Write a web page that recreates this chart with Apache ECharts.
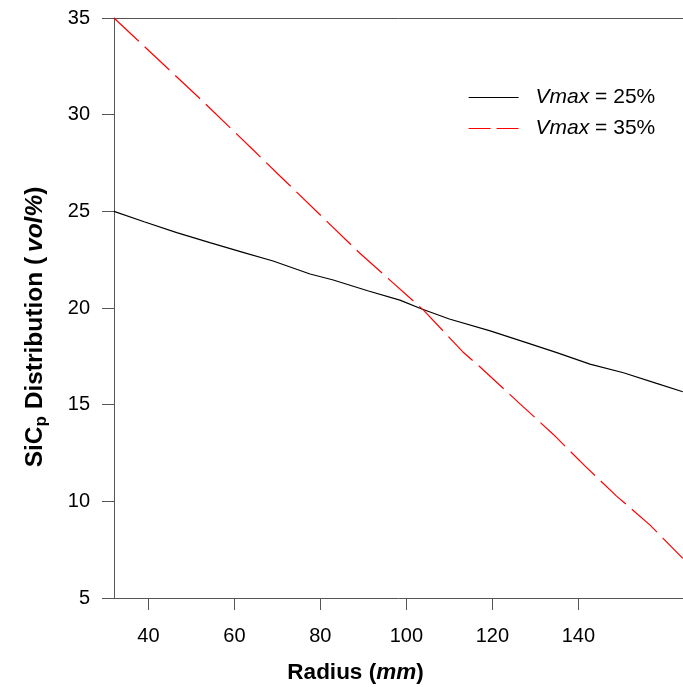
<!DOCTYPE html>
<html>
<head>
<meta charset="utf-8">
<script src="https://cdn.jsdelivr.net/npm/echarts@6/dist/echarts.min.js"></script>
<style>
html,body{margin:0;padding:0;background:#fff;}
#chart{width:683px;height:687px;}
</style>
</head>
<body>
<div id="chart"></div>
<script>
// ---- data ----
const radius25 = [32, 39, 46.6, 54.3, 62, 69, 77.6, 83, 91, 98.5, 103.6, 110, 119.5, 127.2, 135, 142.7, 150.5, 158.2, 164.3];
const vmax25   = [25.0, 24.46, 23.9, 23.38, 22.88, 22.43, 21.76, 21.45, 20.89, 20.41, 19.95, 19.43, 18.82, 18.26, 17.69, 17.10, 16.65, 16.1, 15.67];
const radius35 = [32, 51.9, 64.4, 70.6, 89.2, 104, 113.1, 117.1, 126.5, 134.2, 141.6, 148.9, 156.7, 164.3];
const vmax35   = [35, 30.85, 28.17, 26.83, 22.83, 19.89, 17.74, 16.96, 15.03, 13.46, 11.82, 10.27, 8.77, 7.05];
const xTicks = [40, 60, 80, 100, 120, 140];
const seriesNames = ['Vmax = 25%', 'Vmax = 35%'];

const FONT = "'Liberation Sans', Arial, Helvetica, sans-serif";
const AX = '#555';

function pairs(xs, ys) { return xs.map((x, i) => [x, ys[i]]); }

const chart = echarts.init(document.getElementById('chart'), null, {renderer: 'canvas'});
chart.setOption({
  animation: false,
  backgroundColor: '#fff',
  grid: {left: 114, right: 0, top: 18, bottom: 89, containLabel: false},
  xAxis: [{
    type: 'value', min: 32, max: 164.35,
    axisLine: {show: true, onZero: false, lineStyle: {color: AX, width: 1}},
    axisTick: {show: true, length: 12, lineStyle: {color: AX}, customValues: xTicks},
    axisLabel: {show: true, margin: 28, fontSize: 20, color: '#000', fontFamily: FONT, customValues: xTicks},
    splitLine: {show: false}
  }, {
    type: 'value', position: 'top', min: 32, max: 164.35,
    axisLine: {show: true, onZero: false, lineStyle: {color: AX, width: 1}},
    axisTick: {show: false}, axisLabel: {show: false}, splitLine: {show: false}
  }],
  yAxis: {
    type: 'value', min: 5, max: 35, interval: 5,
    axisLine: {show: true, onZero: false, lineStyle: {color: AX, width: 1}},
    axisTick: {show: true, length: 12, lineStyle: {color: AX}},
    axisLabel: {margin: 24, fontSize: 20, color: '#000', fontFamily: FONT},
    splitLine: {show: false}
  },
  legend: {
    orient: 'vertical', left: 463, top: 82,
    itemWidth: 50, itemHeight: 14, itemGap: 10,
    itemStyle: {opacity: 0},
    data: [
      {name: seriesNames[0], itemStyle: {opacity: 0}, lineStyle: {width: 1.2}},
      {name: seriesNames[1], itemStyle: {opacity: 0}, lineStyle: {width: 1.2, type: [22, 6]}}
    ],
    formatter: function (name) {
      const parts = name.split(' = ');
      return '{i|' + parts[0] + '}{n| = ' + parts[1] + '}';
    },
    textStyle: {
      padding: [0, 0, 0, 12],
      lineHeight: 20,
      rich: {
        i: {fontStyle: 'italic', fontSize: 21, fontFamily: FONT, color: '#000', lineHeight: 20},
        n: {fontSize: 21, fontFamily: FONT, color: '#000', lineHeight: 20}
      }
    }
  },
  series: [{
    name: seriesNames[0], type: 'line', symbol: 'none', showSymbol: false,
    data: pairs(radius25, vmax25),
    lineStyle: {color: '#000', width: 1.2},
    itemStyle: {color: '#000'}
  }, {
    name: seriesNames[1], type: 'line', symbol: 'none', showSymbol: false,
    data: pairs(radius35, vmax35),
    lineStyle: {color: '#ff0000', width: 1.2, type: [34, 8]},
    itemStyle: {color: '#ff0000'}
  }],
  graphic: [{
    type: 'text', x: 355.5, y: 673,
    style: {
      text: '{b|Radius (}{bi|mm}{b|)}',
      align: 'center', verticalAlign: 'middle',
      rich: {
        b: {fontWeight: 'bold', fontSize: 22.5, fontFamily: FONT, fill: '#000'},
        bi: {fontWeight: 'bold', fontStyle: 'italic', fontSize: 22.5, fontFamily: FONT, fill: '#000'}
      }
    }
  }, {
    type: 'text', x: 35, y: 327, rotation: Math.PI / 2,
    style: {
      text: '{b|SiC}{s|p}{b| Distribution (\u2009}{bi|vol%}{b|)}',
      align: 'center', verticalAlign: 'middle',
      rich: {
        b: {fontWeight: 'bold', fontSize: 24.5, fontFamily: FONT, fill: '#000', lineHeight: 30},
        bi: {fontWeight: 'bold', fontStyle: 'italic', fontSize: 24.5, fontFamily: FONT, fill: '#000', lineHeight: 30},
        s: {fontWeight: 'bold', fontSize: 17, fontFamily: FONT, fill: '#000', lineHeight: 17, verticalAlign: 'bottom'}
      }
    }
  }]
});
</script>
</body>
</html>
